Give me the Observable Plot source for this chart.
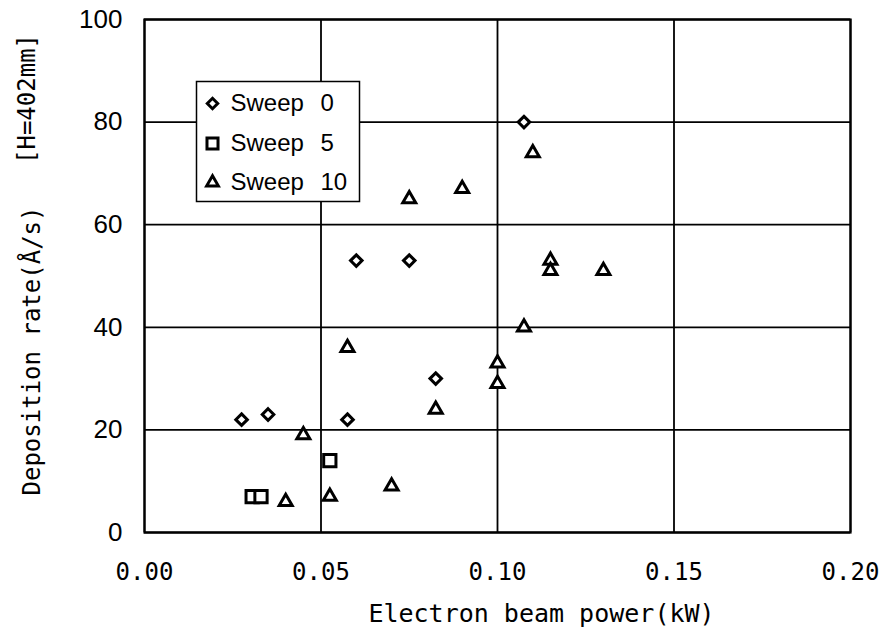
<!DOCTYPE html>
<html>
<head>
<meta charset="utf-8">
<script src="https://cdn.jsdelivr.net/npm/d3@7"></script>
<script src="https://cdn.jsdelivr.net/npm/@observablehq/plot@0.6"></script>
<style>
  html, body { margin: 0; padding: 0; background: white; }
  svg { display: block; }
</style>
</head>
<body>
<div id="chart"></div>
<script>
// ---- data ----
const sweep0X = [0.0275, 0.035, 0.0575, 0.06, 0.075, 0.0825, 0.1075];
const sweep0Y = [22, 23, 22, 53, 53, 30, 80];
const sweep5X = [0.0305, 0.033, 0.0525];
const sweep5Y = [7, 7, 14];
const sweep10X = [0.04, 0.045, 0.0525, 0.0575, 0.07, 0.075, 0.0825, 0.09, 0.1, 0.1, 0.1075, 0.11, 0.115, 0.115, 0.13];
const sweep10Y = [6, 19, 7, 36, 9, 65, 24, 67, 33, 29, 40, 74, 53, 51, 51];
const seriesNames = ["Sweep", "Sweep", "Sweep"];
const seriesNums = ["0", "5", "10"];
const xTicks = [0, 0.05, 0.1, 0.15, 0.2];
const yTicks = [0, 20, 40, 60, 80, 100];
const xLabel = "Electron beam power(kW)";
const yLabel = "Deposition rate(Å/s)";
const yNote = "[H=402mm]";

const toRows = (xs, ys) => xs.map((x, i) => ({x, y: ys[i]}));
const s0 = toRows(sweep0X, sweep0Y);
const s5 = toRows(sweep5X, sweep5Y);
const s10 = toRows(sweep10X, sweep10Y);

const mono = "'DejaVu Sans Mono', 'Liberation Mono', monospace";
const sans = "'Liberation Sans', Arial, sans-serif";
const symbols = ["diamond2", "square2", "triangle2"];
const symR = [5.2, 7.8, 6.2];
const dotStyle = {stroke: "black", strokeWidth: 3, fill: "white"};

const legendTop = [84, 124, 163];
const legendMarks = [];
seriesNums.forEach((n, i) => {
  legendMarks.push(Plot.dot([n], {frameAnchor: "top-left", dx: 68, dy: legendTop[i], symbol: symbols[i], r: symR[i] * 0.9, ...dotStyle}));
  legendMarks.push(Plot.text([seriesNames[i]], {text: d => d, frameAnchor: "top-left", dx: 86, dy: legendTop[i], textAnchor: "start", lineAnchor: "middle", fontSize: 24, fontFamily: sans, fill: "black"}));
  legendMarks.push(Plot.text([n], {text: d => d, frameAnchor: "top-left", dx: 176, dy: legendTop[i], textAnchor: "start", lineAnchor: "middle", fontSize: 24, fontFamily: sans, fill: "black"}));
});

const chart = Plot.plot({
  width: 885,
  height: 635,
  marginLeft: 144,
  marginRight: 35,
  marginTop: 19,
  marginBottom: 103,
  style: {background: "white", color: "black"},
  x: {domain: [0, 0.2]},
  y: {domain: [0, 100]},
  marks: [
    Plot.gridX({ticks: xTicks, stroke: "black", strokeOpacity: 1, strokeWidth: 1.8}),
    Plot.gridY({ticks: yTicks, stroke: "black", strokeOpacity: 1, strokeWidth: 1.8}),
    Plot.frame({stroke: "black", strokeWidth: 2.2}),
    Plot.axisX({ticks: xTicks, tickSize: 0, tickPadding: 30, tickFormat: d => d.toFixed(2), fontSize: 24, fontFamily: mono, label: null}),
    Plot.axisY({ticks: yTicks, tickSize: 0, tickPadding: 22, fontSize: 26, fontFamily: sans, label: null}),
    Plot.frame({fill: "white", stroke: "black", strokeWidth: 1.5, insetLeft: 52, insetTop: 62, insetRight: 491, insetBottom: 331}),
    ...legendMarks,
    Plot.dot(s0, {x: "x", y: "y", symbol: symbols[0], r: symR[0], ...dotStyle}),
    Plot.dot(s5, {x: "x", y: "y", symbol: symbols[1], r: symR[1], ...dotStyle}),
    Plot.dot(s10, {x: "x", y: "y", symbol: symbols[2], r: symR[2], ...dotStyle}),
    Plot.text([xLabel], {text: d => d, frameAnchor: "bottom", dx: 44, dy: 81, textAnchor: "middle", lineAnchor: "middle", fontSize: 25, fontFamily: mono, fill: "black"}),
    Plot.text([yLabel], {text: d => d, frameAnchor: "left", dx: -112, dy: 75, rotate: -90, textAnchor: "middle", lineAnchor: "middle", fontSize: 24, fontFamily: mono, fill: "black"}),
    Plot.text([yNote], {text: d => d, frameAnchor: "left", dx: -117, dy: -177, rotate: -90, textAnchor: "middle", lineAnchor: "middle", fontSize: 24, fontFamily: mono, fill: "black"})
  ]
});
document.getElementById("chart").appendChild(chart);
</script>
</body>
</html>
